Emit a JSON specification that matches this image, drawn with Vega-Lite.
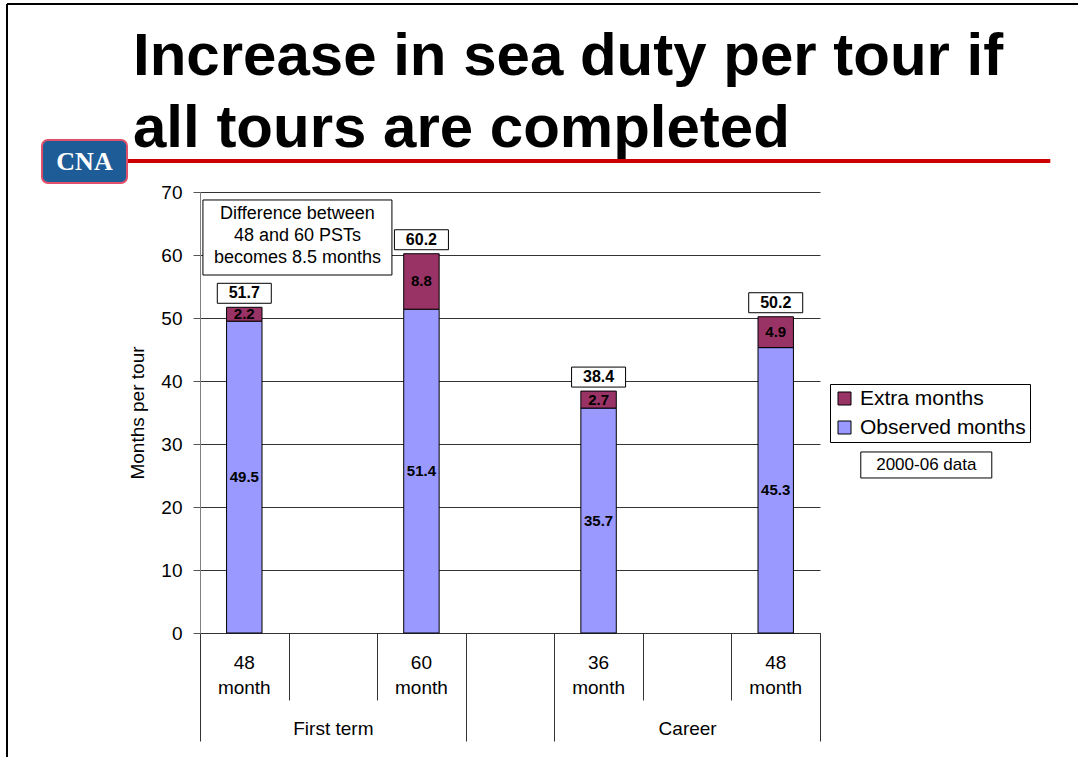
{
  "$schema": "https://vega.github.io/schema/vega-lite/v6.json",
  "autosize": {"type": "none"},
  "padding": {"left": 200, "top": 192, "right": 258, "bottom": 124},
  "width": 620,
  "height": 441,
  "background": "white",
  "config": {"view": {"stroke": null}, "font": "Liberation Sans"},
  "title": {
    "text": ["Increase in sea duty per tour if", "all tours are completed"],
    "anchor": "start",
    "frame": "group",
    "font": "Liberation Sans",
    "fontSize": 60,
    "fontWeight": "bold",
    "color": "black",
    "lineHeight": 72,
    "dx": -67,
    "dy": 167,
    "offset": 10
  },
  "datasets": {
    "tours": [
      {"slot": "FT48", "series": "Observed months", "value": 49.5},
      {"slot": "FT48", "series": "Extra months", "value": 2.2},
      {"slot": "FT60", "series": "Observed months", "value": 51.4},
      {"slot": "FT60", "series": "Extra months", "value": 8.8},
      {"slot": "CR36", "series": "Observed months", "value": 35.7},
      {"slot": "CR36", "series": "Extra months", "value": 2.7},
      {"slot": "CR48", "series": "Observed months", "value": 45.3},
      {"slot": "CR48", "series": "Extra months", "value": 4.9}
    ]
  },
  "layer": [
    {
      "data": {"name": "tours"},
      "layer": [
        {
          "mark": {"type": "bar", "stroke": "black", "strokeWidth": 1},
          "encoding": {
            "x": {
              "field": "slot",
              "type": "nominal",
              "scale": {"domain": ["FT48", "g1", "FT60", "g2", "CR36", "g3", "CR48"], "paddingInner": 0.6, "paddingOuter": 0.3},
              "axis": {
                "title": null,
                "ticks": false,
                "domainColor": "#333333",
                "labelExpr": "datum.value == 'FT48' || datum.value == 'CR48' ? ['48', 'month'] : datum.value == 'FT60' ? ['60', 'month'] : datum.value == 'CR36' ? ['36', 'month'] : ''",
                "labelFontSize": 19,
                "labelLineHeight": 25,
                "labelPadding": 20,
                "labelColor": "black",
                "labelAngle": 0
              }
            },
            "y": {
              "field": "value",
              "type": "quantitative",
              "stack": "zero",
              "title": "Months per tour",
              "scale": {"domain": [0, 70], "nice": false},
              "axis": {
                "values": [0, 10, 20, 30, 40, 50, 60, 70],
                "grid": true,
                "gridColor": "#333333",
                "tickSize": 7,
                "tickColor": "#555555",
                "domainColor": "#808080",
                "labelFontSize": 19,
                "labelPadding": 11,
                "labelColor": "black",
                "titleFontSize": 19,
                "titleFontWeight": "normal",
                "titleColor": "black",
                "titlePadding": 13
              }
            },
            "color": {
              "field": "series",
              "type": "nominal",
              "scale": {"domain": ["Extra months", "Observed months"], "range": ["#993366", "#9999FF"]},
              "legend": {
                "orient": "none",
                "legendX": 630,
                "legendY": 192,
                "title": null,
                "strokeColor": "black",
                "fillColor": "white",
                "padding": 4,
                "symbolType": "square",
                "symbolSize": 169,
                "symbolStrokeColor": "black",
                "symbolStrokeWidth": 1,
                "labelFontSize": 21,
                "labelLimit": 300,
                "labelColor": "black",
                "labelOffset": 5,
                "rowPadding": 7
              }
            },
            "order": {"field": "series", "sort": "descending"}
          }
        },
        {
          "mark": {"type": "text", "fontSize": 15, "fontWeight": "bold", "color": "black", "baseline": "middle"},
          "encoding": {
            "x": {"field": "slot", "type": "nominal"},
            "y": {"field": "value", "type": "quantitative", "stack": "zero", "bandPosition": 0.5, "title": "Months per tour"},
            "detail": {"field": "series"},
            "order": {"field": "series", "sort": "descending"},
            "text": {"field": "value", "type": "quantitative", "format": ".1f"}
          }
        },
        {
          "transform": [{"aggregate": [{"op": "sum", "field": "value", "as": "total"}], "groupby": ["slot"]}],
          "layer": [
            {
              "mark": {"type": "point", "shape": "M-1,-0.37L1,-0.37L1,0.37L-1,0.37Z", "size": 2916, "filled": true, "fill": "white", "stroke": "black", "strokeWidth": 1, "opacity": 1, "yOffset": -14},
              "encoding": {
                "x": {"field": "slot", "type": "nominal"},
                "y": {"field": "total", "type": "quantitative", "title": "Months per tour"}
              }
            },
            {
              "mark": {"type": "text", "fontSize": 16, "fontWeight": "bold", "color": "black", "baseline": "middle", "yOffset": -14},
              "encoding": {
                "x": {"field": "slot", "type": "nominal"},
                "y": {"field": "total", "type": "quantitative", "title": "Months per tour"},
                "text": {"field": "total", "type": "quantitative", "format": ".1f"}
              }
            }
          ]
        }
      ]
    },
    {
      "data": {"values": [{}]},
      "layer": [
        {
          "mark": {"type": "rule", "color": "black", "strokeWidth": 2},
          "encoding": {
            "x": {
              "datum": -2.179,
              "type": "quantitative",
              "scale": {"domain": [0, 7], "nice": false, "zero": false},
              "axis": {
                "orient": "bottom",
                "title": null,
                "values": [0, 1.5, 3, 4, 5.5, 7],
                "domain": false,
                "grid": false,
                "tickSize": 108,
                "tickColor": "#333333",
                "tickOpacity": {"condition": {"test": "datum.value == 1.5 || datum.value == 5.5", "value": 0}, "value": 1},
                "labelExpr": "datum.value == 1.5 ? 'First term' : datum.value == 5.5 ? 'Career' : ''",
                "labelFontSize": 19,
                "labelColor": "black",
                "labelPadding": -22,
                "labelFlush": false,
                "labelOverlap": false
              }
            },
            "y": {"datum": 99.84, "type": "quantitative"},
            "y2": {"datum": -19.7}
          }
        },
        {
          "mark": {"type": "rule", "color": "black", "strokeWidth": 2},
          "encoding": {
            "x": {"datum": -2.179, "type": "quantitative"},
            "x2": {"datum": 9.913},
            "y": {"datum": 99.84, "type": "quantitative"}
          }
        },
        {
          "mark": {"type": "rule", "color": "#CC0000", "strokeWidth": 4},
          "encoding": {
            "x": {"datum": -0.824, "type": "quantitative"},
            "x2": {"datum": 9.6},
            "y": {"datum": 74.92, "type": "quantitative"}
          }
        },
        {
          "mark": {"type": "rect", "fill": "#1D5C97", "stroke": "#E0506A", "strokeWidth": 2, "cornerRadius": 6},
          "encoding": {
            "x": {"datum": -1.784, "type": "quantitative"},
            "x2": {"datum": -0.824},
            "y": {"datum": 78.25, "type": "quantitative"},
            "y2": {"datum": 71.43}
          }
        },
        {
          "mark": {"type": "text", "text": "CNA", "font": "Liberation Serif", "fontSize": 26, "fontWeight": "bold", "color": "white", "baseline": "middle", "align": "center"},
          "encoding": {
            "x": {"datum": -1.304, "type": "quantitative"},
            "y": {"datum": 74.84, "type": "quantitative"}
          }
        },
        {
          "mark": {"type": "point", "shape": "M-1,-0.397L1,-0.397L1,0.397L-1,0.397Z", "size": 35721, "filled": true, "fill": "white", "stroke": "black", "strokeWidth": 1, "opacity": 1},
          "encoding": {
            "x": {"datum": 1.1, "type": "quantitative"},
            "y": {"datum": 62.78, "type": "quantitative"}
          }
        },
        {
          "mark": {"type": "text", "text": "Difference between|48 and 60 PSTs|becomes 8.5 months", "lineBreak": "|", "fontSize": 18, "lineHeight": 22, "dy": -23, "color": "black", "baseline": "middle", "align": "center"},
          "encoding": {
            "x": {"datum": 1.1, "type": "quantitative"},
            "y": {"datum": 62.78, "type": "quantitative"}
          }
        }
      ]
    },
    {
      "data": {"values": [{}]},
      "layer": [
        {
          "mark": {"type": "point", "shape": "M-1,-0.1985L1,-0.1985L1,0.1985L-1,0.1985Z", "size": 17161, "filled": true, "fill": "white", "stroke": "black", "strokeWidth": 1, "opacity": 1},
          "encoding": {
            "x": {
              "datum": 8.2,
              "type": "quantitative",
              "scale": {"domain": [0, 7], "nice": false, "zero": false},
              "axis": {
                "orient": "bottom",
                "title": null,
                "values": [0, 1, 2, 3, 4, 5, 6, 7],
                "domain": false,
                "grid": false,
                "labels": false,
                "tickSize": 67,
                "tickColor": "#333333"
              }
            },
            "y": {"datum": 26.67, "type": "quantitative"}
          }
        },
        {
          "mark": {"type": "text", "text": "2000-06 data", "fontSize": 17, "color": "black", "baseline": "middle", "align": "center"},
          "encoding": {
            "x": {"datum": 8.2, "type": "quantitative"},
            "y": {"datum": 26.67, "type": "quantitative"}
          }
        }
      ]
    }
  ],
  "resolve": {"scale": {"x": "independent"}, "axis": {"x": "independent"}}
}
